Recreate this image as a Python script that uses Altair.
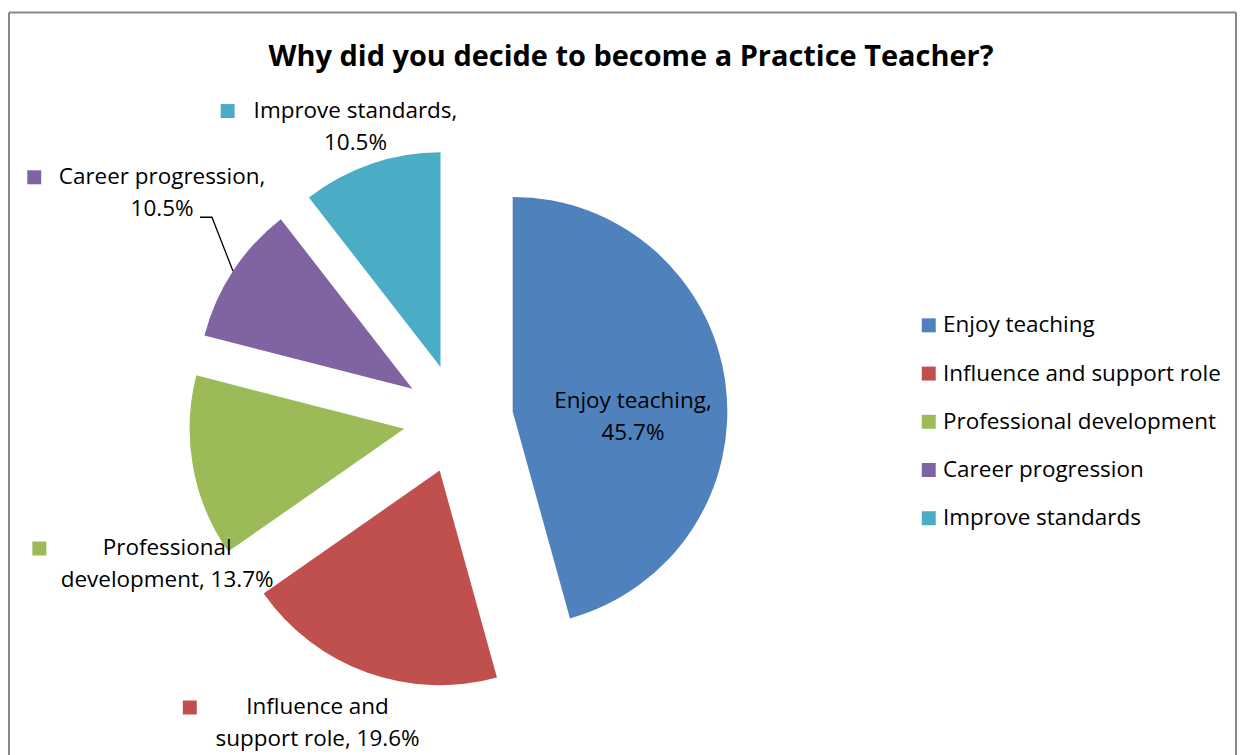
import math
import pandas as pd
import altair as alt

# ---- data ----
categories = ["Enjoy teaching", "Influence and support role", "Professional development",
              "Career progression", "Improve standards"]
values = [45.7, 19.6, 13.7, 10.5, 10.5]
label_line1 = ["Enjoy teaching,", "Influence and", "Professional", "Career progression,", "Improve standards,"]
label_line2 = ["", "support role, ", "development, ", "", ""]
colors = ["#4F81BD", "#C0504D", "#9BBB59", "#8064A2", "#4BACC6"]
title_text = "Why did you decide to become a Practice Teacher?"

# ---- layout (pixels, in view coordinates) ----
W, H = 1229, 730
CX, CY = 450, 407
R = 215
EXPLODE = 55
FONT = "Open Sans"
FS = 22.5
LH = 32
# data-label placement: polar radius from pie centre and angle nudge (deg)
label_r = [175, 336, 326, 373, 310]
label_nudge = [7.0, 5.0, -16.3, 4.0, -0.5]
key_dx = -128
leader_slices = ["Career progression"]

rows = []
cum = 0.0
for i, (c, v) in enumerate(zip(categories, values)):
    start, end = cum, cum + v
    cum = end
    mid = math.radians((start + end) / 2 / 100 * 360)
    ox = CX + EXPLODE * math.sin(mid)
    oy = CY - EXPLODE * math.cos(mid)
    la = mid + math.radians(label_nudge[i])
    lx = CX + label_r[i] * math.sin(la)
    ly = CY - label_r[i] * math.cos(la) - LH / 2   # first line position
    text = f"{label_line1[i]}\n{label_line2[i]}{v}%"
    rows.append(dict(name=c, value=v, start=start, end=end, ox=ox, oy=oy,
                     lx=lx, ly=ly, text=text, hex=colors[i],
                     kx=lx + key_dx, ky=ly, inside=(i == 0),
                     ex=ox + R * math.sin(mid), ey=oy - R * math.cos(mid)))
df = pd.DataFrame(rows)

arcs = alt.Chart(df).mark_arc(radius=R).encode(
    theta=alt.Theta("start:Q", scale=alt.Scale(domain=[0, 100], range=[0, 2 * math.pi]), stack=None),
    theta2="end:Q",
    x=alt.X("ox:Q", scale=None, axis=None),
    y=alt.Y("oy:Q", scale=None, axis=None),
    color=alt.Color("name:N", scale=alt.Scale(domain=categories, range=colors), sort=categories,
                    legend=alt.Legend(title=None, orient="none", legendX=910, legendY=302,
                                      symbolType="square", symbolSize=196, symbolStrokeWidth=0,
                                      labelFontSize=FS, labelFont=FONT, labelColor="#000000",
                                      labelLimit=0, labelOffset=3, rowPadding=25.3, padding=0)),
)

labels = alt.Chart(df).mark_text(fontSize=FS, font=FONT, lineBreak="\n", lineHeight=LH,
                                 align="center", baseline="middle", color="#000000").encode(
    x=alt.X("lx:Q", scale=None), y=alt.Y("ly:Q", scale=None), text="text:N")

keys = alt.Chart(df[~df["inside"]]).mark_point(shape="square", size=196, filled=True, opacity=1).encode(
    x=alt.X("kx:Q", scale=None), y=alt.Y("ky:Q", scale=None), color=alt.Color("hex:N", scale=None))

# leader lines
lead_rows = []
for _, r in df[df["name"].isin(leader_slices)].iterrows():
    lead_rows += [dict(name=r["name"], o=0, x=r["lx"] + 38, y=r["ly"] + 40),
                  dict(name=r["name"], o=1, x=r["lx"] + 50, y=r["ly"] + 40),
                  dict(name=r["name"], o=2, x=r["ex"], y=r["ey"])]
leaders = alt.Chart(pd.DataFrame(lead_rows)).mark_line(color="#000000", strokeWidth=1.3).encode(
    x=alt.X("x:Q", scale=None), y=alt.Y("y:Q", scale=None), order="o:Q", detail="name:N")

title = alt.Chart(pd.DataFrame({"t": [title_text]})).mark_text(
    fontSize=29, font=FONT, fontWeight="bold", align="center", baseline="middle", color="#000000"
).encode(x=alt.value(623), y=alt.value(44), text="t:N")

one = pd.DataFrame({"a": [0]})
border_top = alt.Chart(one).mark_rule(color="#878787", strokeWidth=2).encode(
    x=alt.value(0), x2=alt.value(W), y=alt.value(0))
border_left = alt.Chart(one).mark_rule(color="#878787", strokeWidth=2).encode(
    x=alt.value(0), y=alt.value(0), y2=alt.value(H + 20))
border_right = alt.Chart(one).mark_rule(color="#878787", strokeWidth=2).encode(
    x=alt.value(W), y=alt.value(0), y2=alt.value(H + 20))

chart = alt.layer(arcs, labels, keys, leaders, title, border_top, border_left, border_right).properties(
    width=W, height=H, padding={"left": 0, "top": 3, "right": 0, "bottom": 0}
).configure(background="#ffffff", view=alt.ViewConfig(stroke=None))

chart.save("out.html", embed_options={"renderer": "svg", "actions": False})
